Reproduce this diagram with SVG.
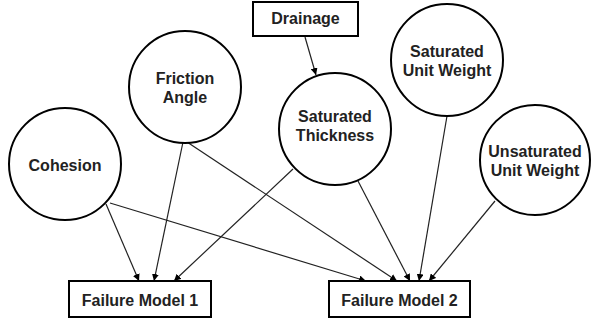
<svg xmlns="http://www.w3.org/2000/svg" width="592" height="322" viewBox="0 0 592 322">
<defs>
<style>
.n{fill:#fff;stroke:#000;stroke-width:2}
.t{font-family:"Liberation Sans",Arial,sans-serif;font-weight:bold;font-size:16px;fill:#222;text-anchor:middle}
.e{stroke:#222;stroke-width:1.2;fill:none;marker-end:url(#ah)}
</style>
<marker id="ah" viewBox="0 0 10 10" refX="10" refY="5" markerWidth="7" markerHeight="7" markerUnits="userSpaceOnUse" orient="auto">
<path d="M0,0 L10,5 L0,10 z" fill="#000"/>
</marker>
</defs>
<rect width="592" height="322" fill="#fff"/>
<g id="connectors">
<line class="e" x1="305" y1="37" x2="316" y2="75"/>
<line class="e" x1="106" y1="204" x2="139" y2="281"/>
<line class="e" x1="183" y1="142" x2="154" y2="281"/>
<line class="e" x1="293" y1="169" x2="174" y2="281"/>
<line class="e" x1="110" y1="203" x2="366" y2="281"/>
<line class="e" x1="187" y1="142" x2="397" y2="281"/>
<line class="e" x1="358" y1="181" x2="410" y2="281"/>
<line class="e" x1="447" y1="116" x2="419" y2="281"/>
<line class="e" x1="495" y1="201" x2="429" y2="281"/>
</g>
<g id="cohesion"><circle class="n" cx="65" cy="164" r="56"/><text class="t" x="65" y="171">Cohesion</text></g>
<g id="friction"><circle class="n" cx="185" cy="87" r="56"/><text class="t" x="185" y="84">Friction</text><text class="t" x="185" y="103">Angle</text></g>
<g id="drainage"><rect class="n" x="253" y="2" width="105" height="34"/><text class="t" x="305.5" y="24">Drainage</text></g>
<g id="satthick"><circle class="n" cx="335" cy="129" r="56"/><text class="t" x="335" y="122">Saturated</text><text class="t" x="335" y="141">Thickness</text></g>
<g id="satunit"><circle class="n" cx="447" cy="60" r="56"/><text class="t" x="447" y="57">Saturated</text><text class="t" x="447" y="76">Unit Weight</text></g>
<g id="unsatunit"><circle class="n" cx="535" cy="160" r="55"/><text class="t" x="535" y="157">Unsaturated</text><text class="t" x="535" y="176">Unit Weight</text></g>
<g id="fm1"><rect class="n" x="69" y="281" width="142" height="36"/><text class="t" x="140" y="306">Failure Model 1</text></g>
<g id="fm2"><rect class="n" x="329" y="281" width="141" height="36"/><text class="t" x="399.5" y="306">Failure Model 2</text></g>
</svg>
